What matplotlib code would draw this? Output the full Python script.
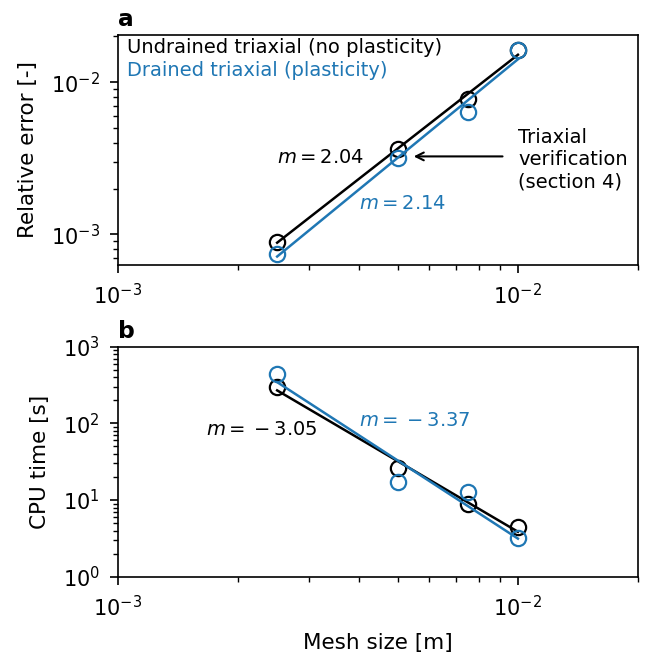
import numpy as np
import matplotlib.pyplot as plt

plt.rcParams['font.size'] = 14
plt.rcParams['axes.labelsize'] = 15.5
plt.rcParams['xtick.labelsize'] = 15
plt.rcParams['ytick.labelsize'] = 15
plt.rcParams['axes.linewidth'] = 1.2
plt.rcParams['xtick.major.size'] = 5.6
plt.rcParams['ytick.major.size'] = 5.6
plt.rcParams['xtick.minor.size'] = 3.3
plt.rcParams['ytick.minor.size'] = 3.3
plt.rcParams['xtick.major.width'] = 1.2
plt.rcParams['ytick.major.width'] = 1.2
plt.rcParams['xtick.minor.width'] = 1.0
plt.rcParams['ytick.minor.width'] = 1.0
plt.rcParams['xtick.major.pad'] = 7.5
plt.rcParams['ytick.major.pad'] = 7.5
plt.rcParams['axes.labelpad'] = 9

# mesh sizes [m]
mesh = [2.5e-3, 5e-3, 7.5e-3, 1e-2]

# relative error
err_undrained = [8.97e-4, 3.65e-3, 7.69e-3, 1.62e-2]
err_drained = [7.43e-4, 3.16e-3, 6.4e-3, 1.625e-2]

# cpu time [s]
cpu_undrained = [301, 26.4, 8.77, 4.49]
cpu_drained = [440, 17.0, 12.6, 3.16]

labels = ['Undrained triaxial (no plasticity)', 'Drained triaxial (plasticity)']
slope_err = [r'$m = 2.04$', r'$m = 2.14$']
slope_cpu = [r'$m = \:{-}\:3.05$', r'$m = \:{-}\:3.37$']


def fit(x, y):
    p = np.polyfit(np.log10(x), np.log10(y), 1)
    return 10 ** np.polyval(p, np.log10(x))


fig = plt.figure(figsize=(6.52, 6.54), dpi=100)
ax1 = fig.add_axes([0.181, 0.595, 0.798, 0.352])
ax2 = fig.add_axes([0.181, 0.118, 0.798, 0.352])

x = np.array(mesh)
for ax, ys in [(ax1, [err_undrained, err_drained]), (ax2, [cpu_undrained, cpu_drained])]:
    for y, c in zip(ys, ['k', 'C0']):
        ax.plot(x, fit(x, np.array(y)), color=c, lw=1.8)
        ax.plot(x, y, 'o', color=c, mfc='none', ms=11, mew=1.6)
    ax.set_xscale('log')
    ax.set_yscale('log')
    ax.set_xlim(1e-3, 2e-2)

ax1.set_ylim(6.3e-4, 2.05e-2)
ax2.set_ylim(1, 1000)

ax1.text(0.017, 0.985, labels[0], color='k', transform=ax1.transAxes, va='top')
ax1.text(0.017, 0.885, labels[1], color='C0', transform=ax1.transAxes, va='top')

ax1.text(2.5e-3, 3.2e-3, slope_err[0], color='k', va='center')
ax1.text(4.0e-3, 1.6e-3, slope_err[1], color='C0', va='center')
ax2.text(1.66e-3, 84, slope_cpu[0], color='k', va='center')
ax2.text(4.0e-3, 110, slope_cpu[1], color='C0', va='center')

ax1.annotate('', xy=(5.4e-3, 3.25e-3), xytext=(9.3e-3, 3.25e-3),
             arrowprops=dict(arrowstyle='->', color='k', lw=1.5))
ax1.text(1.0e-2, 3.1e-3, 'Triaxial\nverification\n(section 4)', ha='left', va='center')

ax1.set_ylabel('Relative error [-]')
ax2.set_ylabel('CPU time [s]')
ax2.set_xlabel('Mesh size [m]')
ax1.set_title('a', loc='left', fontweight='bold')
ax2.set_title('b', loc='left', fontweight='bold')

plt.savefig('out.png', dpi=100)
